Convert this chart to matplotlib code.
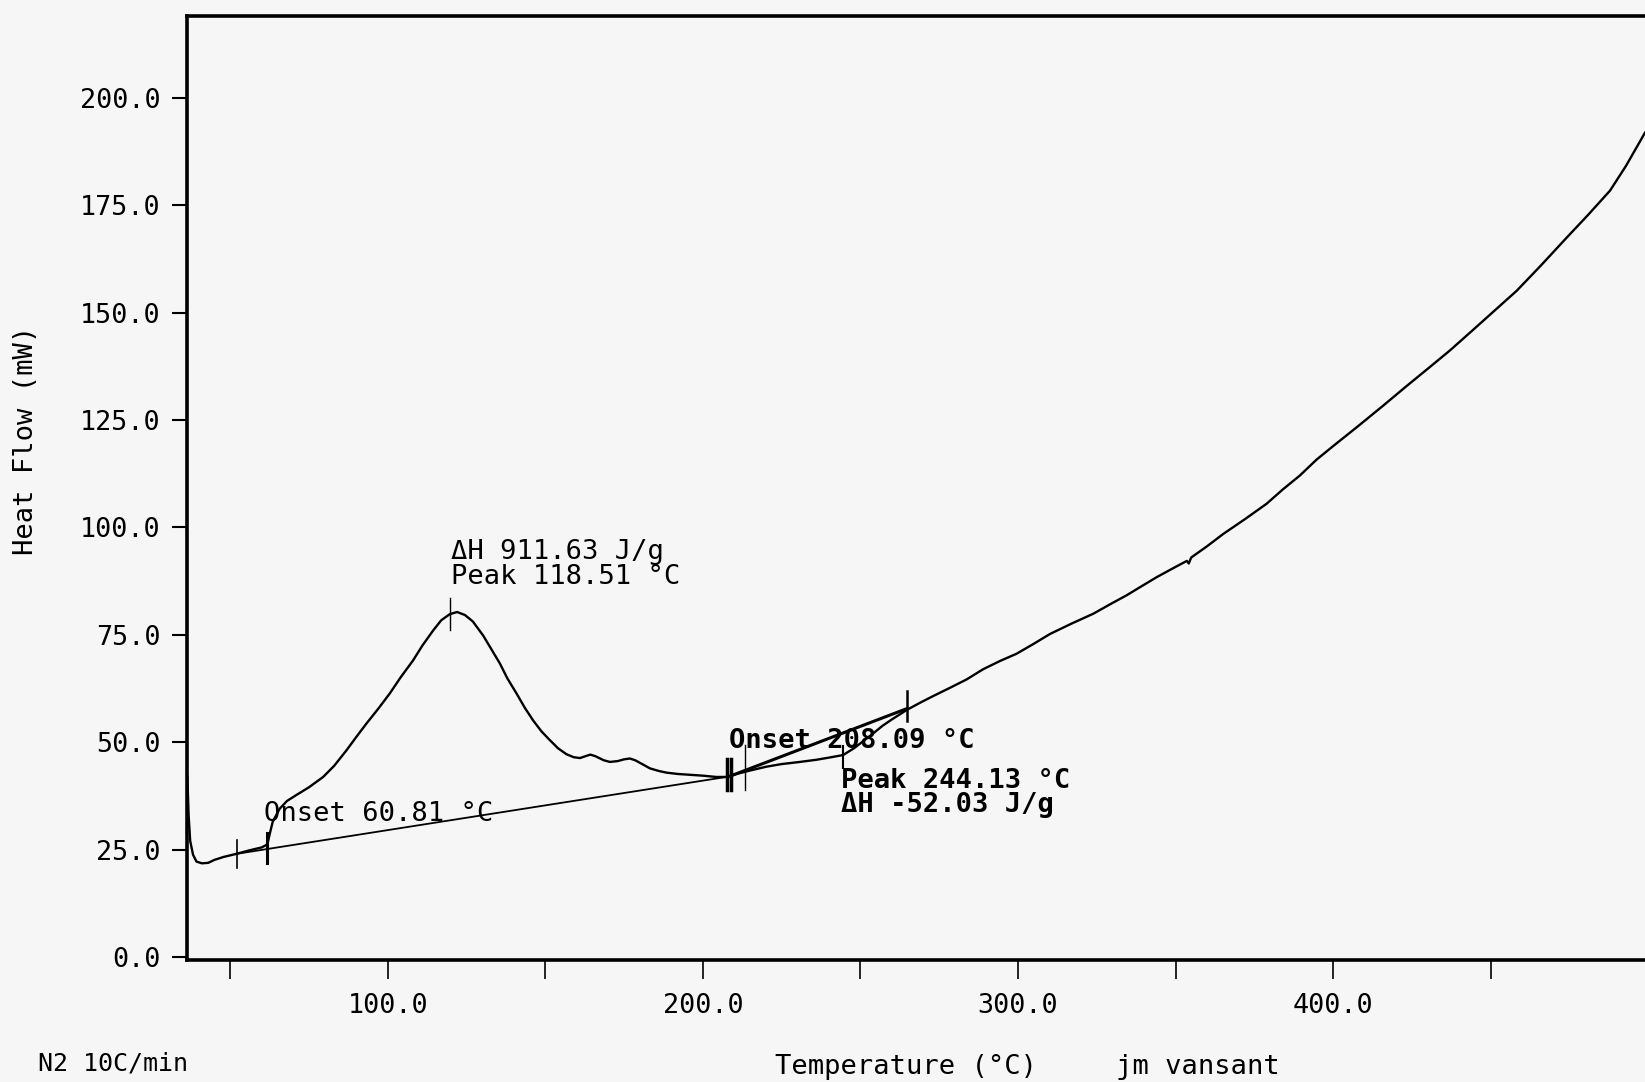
import numpy as np
import matplotlib
matplotlib.use("Agg")
import matplotlib.pyplot as plt

# DSC trace
temperature = [36.4, 36.8, 37.3, 38.2, 39.3, 41.0, 43.0, 45.0, 48.0, 52.0, 56.0, 60.0, 61.8,
               62.5, 63.5, 65.7, 68.0, 71.0, 75.0, 79.5, 83.0, 86.9, 90.0, 93.2, 97.0,
               100.6, 104.0, 108.0, 111.0, 114.4, 117.0, 119.7, 122.0, 124.5, 127.0,
               130.3, 133.0, 135.6, 138.0, 140.9, 143.5, 146.1, 148.8, 151.4, 154.0,
               156.7, 159.0, 161.0, 163.0, 164.3, 166.0, 168.5, 170.5, 173.0, 175.0,
               176.8, 178.5, 181.0, 183.2, 186.0, 188.5, 192.0, 196.0, 200.0, 204.3,
               207.0, 208.5, 210.7, 215.0, 220.2, 225.0, 230.8, 236.0, 240.0, 244.5,
               248.0, 251.0, 254.0, 257.0, 260.0, 264.7, 269.0, 273.0, 278.0, 283.7,
               289.0, 294.3, 299.6, 305.0, 310.2, 317.0, 323.9, 329.0, 334.5, 339.0,
               344.0, 349.0, 353.6, 354.2, 355.0, 360.0, 365.2, 372.0, 378.9, 384.0,
               389.5, 394.8, 401.0, 408.0, 416.0, 423.0, 430.0, 437.1, 444.0, 451.0,
               458.3, 466.0, 474.2, 481.0, 487.9, 493.0, 499.0]
heat_flow = [42.0, 33.0, 27.0, 23.8, 22.2, 21.8, 21.9, 22.6, 23.3, 24.0, 24.8, 25.5, 26.2,
             28.5, 31.5, 34.5, 36.3, 37.7, 39.5, 41.9, 44.5, 48.1, 51.2, 54.3, 57.8,
             61.3, 65.0, 69.0, 72.5, 76.0, 78.4, 79.8, 80.3, 79.6, 78.1,
             74.8, 71.5, 68.3, 64.8, 61.3, 58.0, 55.1, 52.5, 50.5, 48.6,
             47.2, 46.5, 46.3, 46.8, 47.1, 46.7, 45.8, 45.4, 45.6, 46.0,
             46.2, 45.8, 44.8, 43.9, 43.3, 42.9, 42.6, 42.4, 42.2, 41.9,
             41.9, 42.1, 42.6, 43.4, 44.3, 44.9, 45.4, 45.9, 46.4, 47.0,
             48.6, 50.3, 52.0, 53.8, 55.3, 57.5, 59.2, 60.7, 62.5, 64.6,
             67.0, 68.9, 70.6, 72.9, 75.2, 77.6, 79.9, 82.0, 84.2, 86.2,
             88.4, 90.4, 92.2, 91.6, 93.0, 95.6, 98.5, 101.9, 105.5, 108.8,
             112.1, 115.8, 119.5, 123.6, 128.4, 132.7, 136.9, 141.2, 145.7, 150.3,
             155.1, 161.0, 167.5, 172.8, 178.4, 184.2, 191.9]

# analysis construction lines
baseline_t = [52.0, 208.3]
baseline_hf = [24.0, 42.0]
tangent_t = [208.3, 264.7]
tangent_hf = [42.0, 57.8]

# small vertical markers (temperature, low, high, width)
marker_t = [52.0, 61.8, 119.6, 207.7, 209.0, 213.3, 244.5, 264.7]
marker_lo = [20.8, 21.9, 76.0, 38.8, 38.8, 38.8, 44.0, 55.0]
marker_hi = [27.2, 28.8, 83.5, 46.0, 46.0, 49.3, 49.0, 62.0]
marker_w = [1.2, 2.2, 1.0, 2.5, 2.5, 1.0, 1.5, 1.8]

yticks = [0, 25, 50, 75, 100, 125, 150, 175, 200]
xticks = [50, 100, 150, 200, 250, 300, 350, 400, 450]
xlabels = ["", "100.0", "", "200.0", "", "300.0", "", "400.0", ""]

plt.rcParams['font.family'] = ['DejaVu Sans Mono']
bg = '#f6f6f6'
fs = 19.5

fig = plt.figure(figsize=(16.45, 10.82), dpi=100, facecolor=bg)
ax = fig.add_axes([0.1137, 0.1128, 0.8863, 0.8722], facecolor=bg)

ax.plot(temperature, heat_flow, color='black', lw=1.7)
ax.plot(baseline_t, baseline_hf, color='black', lw=1.3)
ax.plot(tangent_t, tangent_hf, color='black', lw=2.2)
for t, lo, hi, w in zip(marker_t, marker_lo, marker_hi, marker_w):
    ax.plot([t, t], [lo, hi], color='black', lw=w)

ax.set_xlim(36.3, 499)
ax.set_ylim(-0.7, 219)

ax.spines['right'].set_visible(False)
for s in ['left', 'top', 'bottom']:
    ax.spines[s].set_linewidth(2.6)

ax.set_yticks(yticks)
ax.set_yticklabels([f"{v:.1f}" for v in yticks])
ax.set_xticks(xticks)
ax.set_xticklabels(xlabels)
ax.tick_params(axis='y', direction='out', length=11, width=1.5, pad=8, labelsize=19.3)
ax.tick_params(axis='x', direction='out', length=14, width=1.2, pad=10, labelsize=19.3)

ax.text(120, 85.5, "ΔH 911.63 J/g\nPeak 118.51 °C", fontsize=fs,
        va='bottom', ha='left', linespacing=0.92)
ax.text(60.7, 31.6, "Onset 60.81 °C", fontsize=fs, va='baseline', ha='left')
ax.text(208.3, 48.6, "Onset 208.09 °C", fontsize=fs, fontweight='bold',
        va='baseline', ha='left')
ax.text(243.8, 32.3, "Peak 244.13 °C\nΔH -52.03 J/g", fontsize=fs, fontweight='bold',
        va='bottom', ha='left', linespacing=0.92)

fig.text(0.016, 0.593, "Heat Flow (mW)", rotation=90, fontsize=fs,
         ha='center', va='center')
fig.text(0.551, 0.014, "Temperature (°C)", fontsize=fs, ha='center', va='center')
fig.text(0.728, 0.014, "jm vansant", fontsize=fs, ha='center', va='center')
fig.text(0.023, 0.017, "N2 10C/min", fontsize=18, ha='left', va='center')

fig.savefig('out.png', dpi=100, facecolor=bg)
